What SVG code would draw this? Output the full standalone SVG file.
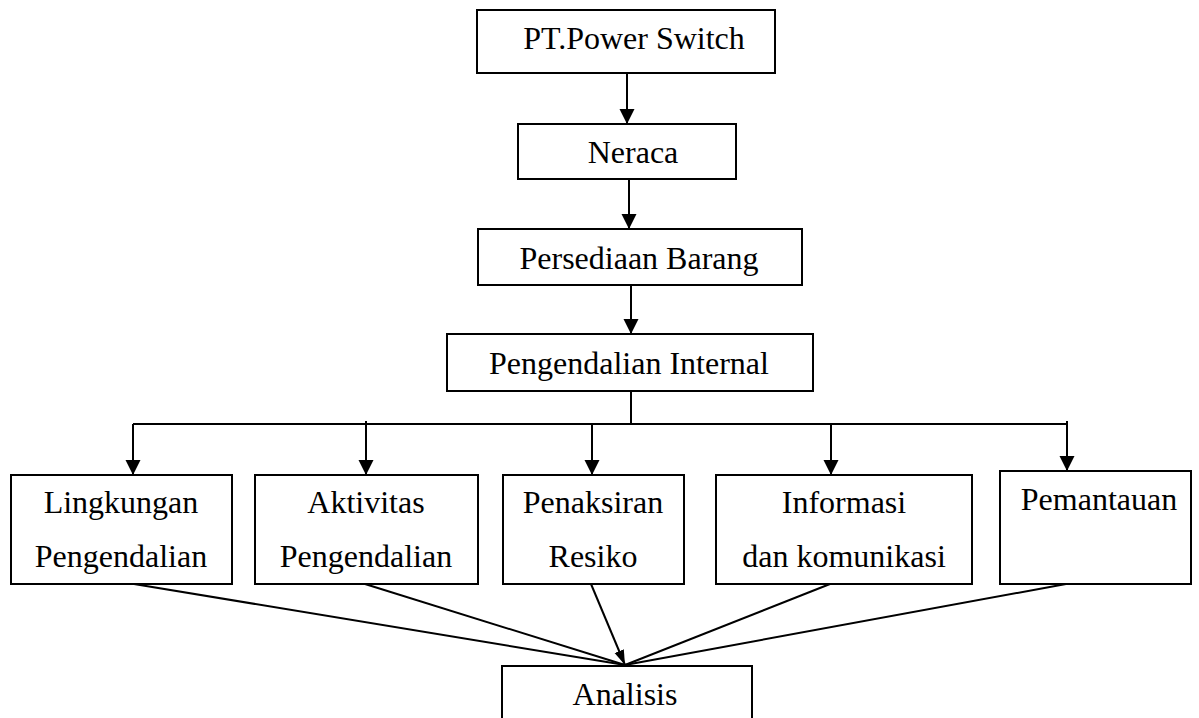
<svg xmlns="http://www.w3.org/2000/svg" width="1199" height="718" viewBox="0 0 1199 718">
<style>
.box{fill:#fff;stroke:#000;stroke-width:2}
.t{font-family:"Liberation Serif","Times New Roman",serif;font-size:32px;fill:#000;text-anchor:middle}
.c{fill:none;stroke:#000;stroke-width:2}
</style>
<defs>
<marker id="ah" markerUnits="userSpaceOnUse" markerWidth="16" markerHeight="16" refX="15" refY="7.5" orient="auto"><path d="M0,0 L15,7.5 L0,15 z" fill="#000"/></marker>
<marker id="ah2" markerUnits="userSpaceOnUse" markerWidth="16" markerHeight="12" refX="15" refY="5" orient="auto"><path d="M0,0 L15,5 L0,10 z" fill="#000"/></marker>
</defs>
<rect width="1199" height="718" fill="#fff"/>
<g id="connectors">
<line class="c" x1="627" y1="73" x2="627" y2="124" marker-end="url(#ah)"/>
<line class="c" x1="629" y1="179" x2="629" y2="229" marker-end="url(#ah)"/>
<line class="c" x1="631" y1="285" x2="631" y2="334" marker-end="url(#ah)"/>
<polyline class="c" points="631,391 631,424"/>
<line class="c" x1="133" y1="424" x2="1067" y2="424"/>
<line class="c" x1="133" y1="424" x2="133" y2="475" marker-end="url(#ah)"/>
<line class="c" x1="366" y1="421" x2="366" y2="475" marker-end="url(#ah)"/>
<line class="c" x1="592" y1="424" x2="592" y2="475" marker-end="url(#ah)"/>
<line class="c" x1="831" y1="424" x2="831" y2="475" marker-end="url(#ah)"/>
<line class="c" x1="1067" y1="421" x2="1067" y2="471" marker-end="url(#ah)"/>
<line class="c" x1="134" y1="584" x2="625" y2="665"/>
<line class="c" x1="365" y1="584" x2="625" y2="665"/>
<line class="c" x1="591" y1="584" x2="625" y2="665" marker-end="url(#ah2)"/>
<line class="c" x1="830" y1="584" x2="625" y2="665"/>
<line class="c" x1="1066" y1="584" x2="625" y2="665"/>
</g>
<g id="n1"><rect class="box" x="477" y="10" width="298" height="63"/><text class="t" x="634" y="49">PT.Power Switch</text></g>
<g id="n2"><rect class="box" x="518" y="124" width="218" height="55"/><text class="t" x="633" y="163">Neraca</text></g>
<g id="n3"><rect class="box" x="478" y="229" width="324" height="56"/><text class="t" x="639" y="269">Persediaan Barang</text></g>
<g id="n4"><rect class="box" x="447" y="334" width="366" height="57"/><text class="t" x="629" y="374">Pengendalian Internal</text></g>
<g id="n5"><rect class="box" x="11" y="475" width="221" height="109"/><text class="t" x="121" y="513">Lingkungan</text><text class="t" x="121" y="567">Pengendalian</text></g>
<g id="n6"><rect class="box" x="255" y="475" width="223" height="109"/><text class="t" x="366" y="513">Aktivitas</text><text class="t" x="366" y="567">Pengendalian</text></g>
<g id="n7"><rect class="box" x="503" y="475" width="181" height="109"/><text class="t" x="593" y="513">Penaksiran</text><text class="t" x="593" y="567">Resiko</text></g>
<g id="n8"><rect class="box" x="716" y="475" width="256" height="109"/><text class="t" x="844" y="513">Informasi</text><text class="t" x="844" y="567">dan komunikasi</text></g>
<g id="n9"><rect class="box" x="1000" y="471" width="191" height="113"/><text class="t" x="1099" y="510">Pemantauan</text></g>
<g id="n10"><rect class="box" x="502" y="666" width="250" height="60"/><text class="t" x="625" y="705">Analisis</text></g>
</svg>
